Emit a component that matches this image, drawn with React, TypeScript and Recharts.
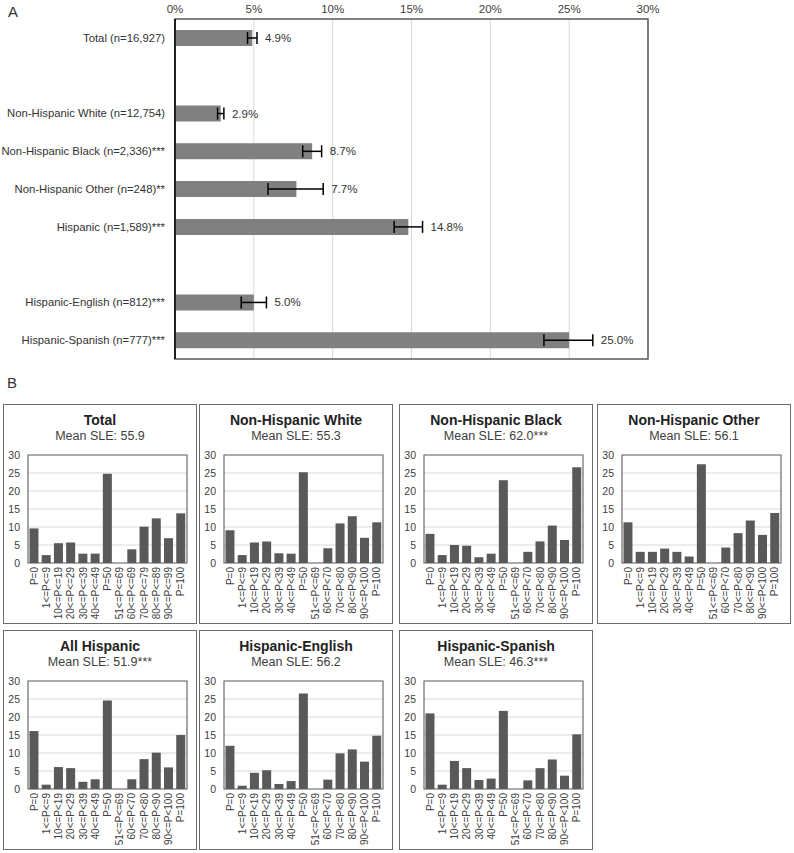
import {
    BarChart,
    Bar,
    XAxis,
    YAxis,
    CartesianGrid,
    ErrorBar,
    LabelList,
    ReferenceArea,
} from 'recharts';

const FONT = '"Liberation Sans", Arial, sans-serif';

// Panel A: prevalence by group (blank rows are spacers)
const groups = [
    'Total (n=16,927)',
    ' ',
    'Non-Hispanic White (n=12,754)',
    'Non-Hispanic Black (n=2,336)***',
    'Non-Hispanic Other (n=248)**',
    'Hispanic (n=1,589)***',
    '  ',
    'Hispanic-English (n=812)***',
    'Hispanic-Spanish (n=777)***',
];
const prevalence = [4.9, null, 2.9, 8.7, 7.7, 14.8, null, 5.0, 25.0];
const ciLow = [4.6, null, 2.7, 8.1, 5.9, 13.9, null, 4.2, 23.4];
const ciHigh = [5.2, null, 3.1, 9.3, 9.4, 15.7, null, 5.8, 26.5];
const pctTicks = [0, 5, 10, 15, 20, 25, 30];

// Panel B: distribution of SLE responses
const totalBins = ['P=0', '1<=P<=9', '10<=P<=19', '20<=P<=29', '30<=P<=39', '40<=P<=49', 'P=50', '51<=P<=69', '60<=P<=69', '70<=P<=79', '80<=P<=89', '90<=P<=99', 'P=100'];
const groupBins = ['P=0', '1<=P<=9', '10<=P<19', '20<=P<29', '30<=P<39', '40<=P<49', 'P=50', '51<=P<=69', '60<=P<70', '70<=P<80', '80<=P<90', '90<=P<100', 'P=100'];
const totalPct = [9.6, 2.2, 5.5, 5.7, 2.6, 2.6, 24.8, 0, 3.8, 10.1, 12.4, 6.9, 13.8];
const whitePct = [9.1, 2.2, 5.7, 6.0, 2.7, 2.6, 25.2, 0, 4.1, 11.0, 13.0, 7.0, 11.3];
const blackPct = [8.1, 2.2, 5.0, 4.8, 1.6, 2.6, 23.0, 0, 3.1, 6.0, 10.4, 6.4, 26.6];
const otherPct = [11.3, 3.1, 3.1, 4.0, 3.1, 1.8, 27.4, 0, 4.3, 8.3, 11.8, 7.8, 13.9];
const hispPct = [16.1, 1.2, 6.1, 5.8, 2.0, 2.7, 24.6, 0, 2.7, 8.3, 10.1, 6.0, 15.0];
const hispEngPct = [12.0, 0.9, 4.5, 5.2, 1.4, 2.2, 26.5, 0, 2.6, 9.9, 11.0, 7.6, 14.8];
const hispSpaPct = [21.0, 1.2, 7.8, 5.8, 2.5, 2.9, 21.7, 0, 2.4, 5.8, 8.2, 3.7, 15.2];
const countTicks = [0, 5, 10, 15, 20, 25, 30];

const prevData = groups.map((name, i) => ({
    name,
    row: i,
    value: prevalence[i],
    err: prevalence[i] == null ? null : [prevalence[i]! - ciLow[i]!, ciHigh[i]! - prevalence[i]!],
}));

// label sits just past the upper CI whisker
function ValueLabel(props: any) {
    const { x, y, width, height, value } = props;
    const v = prevalence[value];
    const hi = ciHigh[value];
    if (v == null || hi == null || !width) return null;
    const perUnit = width / v;
    return (
        <text
            x={x + hi * perUnit + 8}
            y={y + height / 2}
            dy={4}
            fontSize={11.5}
            fill="#333"
            fontFamily={FONT}
        >
            {v.toFixed(1)}%
        </text>
    );
}

function GroupTick(props: any) {
    const { x, y, payload } = props;
    return (
        <text x={x} y={y} dy={4} textAnchor="end" fontSize={11.3} fill="#333" fontFamily={FONT}>
            {payload.value}
        </text>
    );
}

function PctTick(props: any) {
    const { x, y, payload } = props;
    return (
        <text x={x} y={y} textAnchor="middle" fontSize={11.5} fill="#404040" fontFamily={FONT}>
            {payload.value}%
        </text>
    );
}

function PanelA() {
    return (
        <BarChart
            width={680}
            height={370}
            layout="vertical"
            data={prevData}
            margin={{ top: 0, right: 32, bottom: 11, left: 0 }}
        >
            <CartesianGrid horizontal={false} stroke="#d9d9d9" />
            <XAxis
                type="number"
                orientation="top"
                domain={[0, 30]}
                ticks={pctTicks}
                interval={0}
                axisLine={false}
                tickLine={false}
                tickSize={0}
                tickMargin={6}
                height={19}
                tick={<PctTick />}
            />
            <YAxis
                type="category"
                dataKey="name"
                width={175}
                axisLine={{ stroke: '#000', strokeWidth: 1.5 }}
                tickLine={false}
                tickSize={0}
                tickMargin={10}
                interval={0}
                tick={<GroupTick />}
            />
            <Bar dataKey="value" fill="#808080" barSize={16} isAnimationActive={false}>
                <ErrorBar dataKey="err" direction="x" width={6} stroke="#000" strokeWidth={1.5} />
                <LabelList dataKey="row" content={ValueLabel} />
            </Bar>
            <ReferenceArea x1={0} x2={30} fill="none" stroke="#595959" strokeWidth={1.5} />
        </BarChart>
    );
}

function BinTick(props: any) {
    const { x, y, payload } = props;
    return (
        <g transform={`translate(${x},${y})`}>
            <text
                x={0}
                y={0}
                dy={3.5}
                textAnchor="end"
                transform="rotate(-90)"
                fontSize={10}
                fill="#404040"
                fontFamily={FONT}
            >
                {payload.value}
            </text>
        </g>
    );
}

function CountTick(props: any) {
    const { x, y, payload } = props;
    return (
        <text x={x} y={y} dy={4} textAnchor="end" fontSize={10.5} fill="#404040" fontFamily={FONT}>
            {payload.value}
        </text>
    );
}

function Panel(props: {
    title: string;
    mean: string;
    bins: string[];
    values: number[];
    left: number;
    top: number;
}) {
    const data = props.bins.map((bin, i) => ({ bin, pct: props.values[i] }));
    return (
        <div
            style={{
                position: 'absolute',
                left: props.left,
                top: props.top,
                width: 194,
                height: 220,
                boxSizing: 'border-box',
                border: '1.5px solid #6b6b6b',
                fontFamily: FONT,
            }}
        >
            <div
                style={{
                    position: 'absolute',
                    top: 7,
                    left: 0,
                    width: '100%',
                    textAlign: 'center',
                    fontWeight: 'bold',
                    fontSize: 14,
                    color: '#222',
                }}
            >
                {props.title}
            </div>
            <div
                style={{
                    position: 'absolute',
                    top: 24,
                    left: 0,
                    width: '100%',
                    textAlign: 'center',
                    fontSize: 12.5,
                    color: '#404040',
                }}
            >
                Mean SLE: {props.mean}
            </div>
            <div style={{ position: 'absolute', left: -1, top: -1 }}>
                <BarChart
                    width={194}
                    height={220}
                    data={data}
                    barCategoryGap="12%"
                    margin={{ top: 51, right: 10, bottom: 0, left: 0 }}
                >
                    <CartesianGrid vertical={false} stroke="#d9d9d9" />
                    <XAxis
                        dataKey="bin"
                        interval={0}
                        height={61}
                        axisLine={false}
                        tickLine={false}
                        tickSize={0}
                        tickMargin={4}
                        tick={<BinTick />}
                    />
                    <YAxis
                        domain={[0, 30]}
                        ticks={countTicks}
                        interval={0}
                        width={25}
                        axisLine={false}
                        tickLine={false}
                        tickSize={0}
                        tickMargin={8}
                        tick={<CountTick />}
                    />
                    <Bar dataKey="pct" fill="#595959" isAnimationActive={false} />
                    <ReferenceArea y1={0} y2={30} fill="none" stroke="#6b6b6b" strokeWidth={1.2} />
                </BarChart>
            </div>
        </div>
    );
}

export default function App() {
    return (
        <div
            style={{
                position: 'absolute',
                left: 0,
                top: 0,
                width: 794,
                height: 853,
                background: '#fff',
                fontFamily: FONT,
            }}
        >
            <div style={{ position: 'absolute', left: 8, top: 3, fontSize: 15, color: '#333' }}>A</div>
            <div style={{ position: 'absolute', left: 0, top: 0 }}>
                <PanelA />
            </div>
            <div style={{ position: 'absolute', left: 7, top: 374, fontSize: 15, color: '#333' }}>B</div>
            <Panel title="Total" mean="55.9" bins={totalBins} values={totalPct} left={3} top={404} />
            <Panel title="Non-Hispanic White" mean="55.3" bins={groupBins} values={whitePct} left={199} top={404} />
            <Panel title="Non-Hispanic Black" mean="62.0***" bins={groupBins} values={blackPct} left={399} top={404} />
            <Panel title="Non-Hispanic Other" mean="56.1" bins={groupBins} values={otherPct} left={597} top={404} />
            <Panel title="All Hispanic" mean="51.9***" bins={groupBins} values={hispPct} left={3} top={630} />
            <Panel title="Hispanic-English" mean="56.2" bins={groupBins} values={hispEngPct} left={199} top={630} />
            <Panel title="Hispanic-Spanish" mean="46.3***" bins={groupBins} values={hispSpaPct} left={399} top={630} />
        </div>
    );
}
